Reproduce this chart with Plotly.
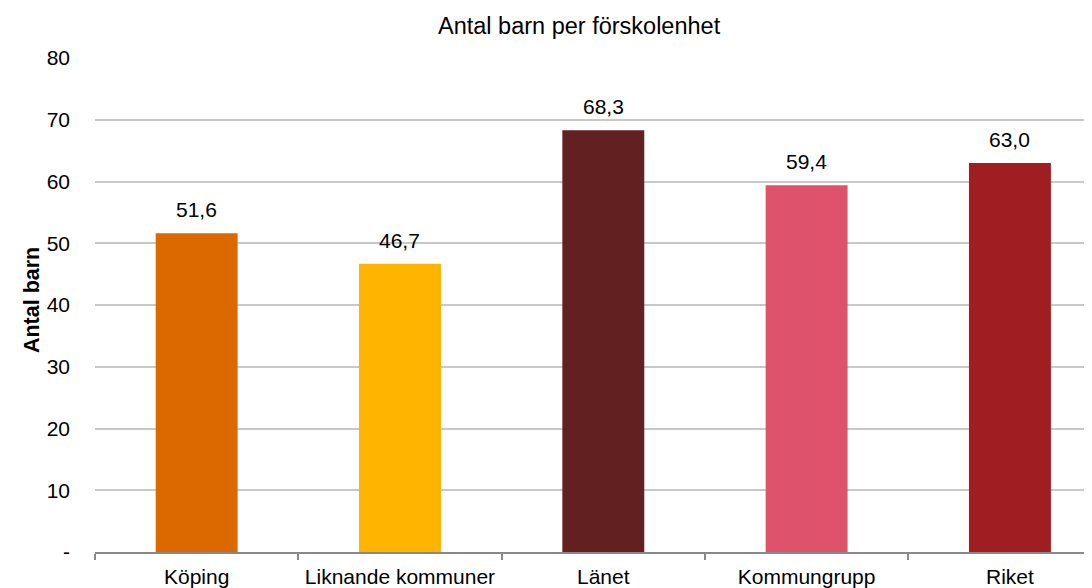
import plotly.graph_objects as go

categories = ["Köping", "Liknande kommuner", "Länet", "Kommungrupp", "Riket"]
values = [51.6, 46.7, 68.3, 59.4, 63.0]
labels = ["51,6", "46,7", "68,3", "59,4", "63,0"]
colors = ["#DC6900", "#FFB400", "#622020", "#DE526C", "#A01E22"]
ytickvals = [0, 10, 20, 30, 40, 50, 60, 70, 80]
yticktext = ["-", "10", "20", "30", "40", "50", "60", "70", "80"]

FONT = "Liberation Sans, Arial, sans-serif"

fig = go.Figure()
fig.add_trace(go.Bar(
    x=categories, y=values, marker=dict(color=colors, line=dict(width=0)),
    width=0.403, hoverinfo="skip"
))

for c, v, t in zip(categories, values, labels):
    fig.add_annotation(x=c, y=v, text=t, showarrow=False, yanchor="bottom",
                       yshift=10, font=dict(family=FONT, size=21, color="#000000"))

# chart title
fig.add_annotation(text="Antal barn per förskolenhet", xref="paper", yref="paper",
                   x=0.4821, y=1, yshift=32, xanchor="center", yanchor="middle",
                   showarrow=False,
                   font=dict(family=FONT, size=23.5, color="#000000"))

# y-axis title
fig.add_annotation(text="<b>Antal barn</b>", xref="paper", yref="paper",
                   x=0, y=0.51, xshift=-63, xanchor="center", yanchor="middle",
                   textangle=-90, showarrow=False,
                   font=dict(family=FONT, size=21.5, color="#000000"))

fig.update_layout(
    width=1092, height=588,
    margin=dict(l=87, r=0, t=50, b=44),
    plot_bgcolor="white", paper_bgcolor="white",
    showlegend=False,
    font=dict(family=FONT, size=21, color="#000000"),
    xaxis=dict(
        type="category", range=[-0.5, 4.443], tickson="boundaries",
        ticks="outside", ticklen=6, tickcolor="#898989", tickwidth=1.5,
        showline=True, linecolor="#898989", linewidth=1.5,
        showgrid=False, ticklabelstandoff=5,
        tickfont=dict(family=FONT, size=21, color="#000000"),
        fixedrange=True,
    ),
    yaxis=dict(
        range=[0, 80], tickvals=ytickvals, ticktext=yticktext,
        showgrid=True, gridcolor="#C8C8C8", gridwidth=1.5,
        zeroline=False, showline=False, ticks="",
        ticklabelstandoff=24,
        tickfont=dict(family=FONT, size=21, color="#000000"),
        fixedrange=True,
    ),
)

fig.write_html("out.html")
